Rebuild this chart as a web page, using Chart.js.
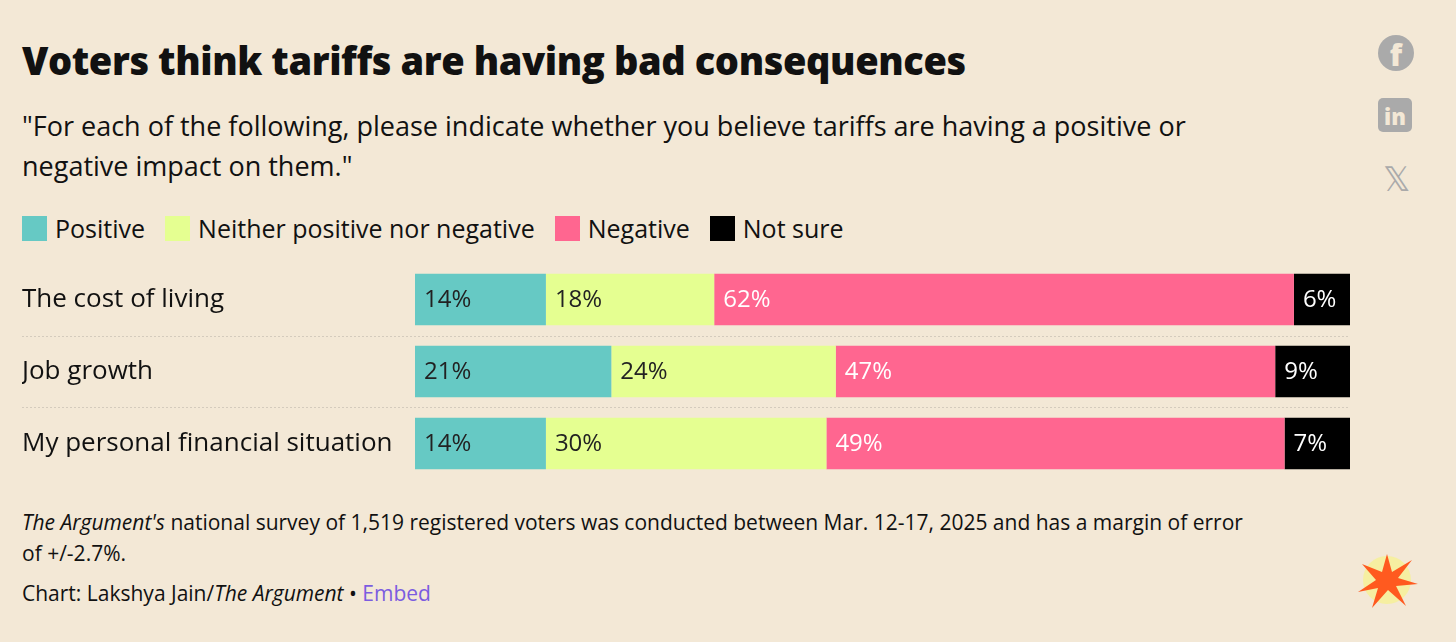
<!DOCTYPE html>
<html><head><meta charset="utf-8">
<script src="https://cdn.jsdelivr.net/npm/chart.js@4"></script>
<style>
body{margin:0;width:1456px;height:642px;background:#f3e8d6;font-family:"Open Sans","Noto Sans",sans-serif;color:#111;position:relative;overflow:hidden}
.abs{position:absolute}
h1{position:absolute;left:22px;top:34px;margin:0;font-size:38px;font-weight:800;letter-spacing:-0.4px}
.sub{left:22px;top:106px;font-size:27px;line-height:40px;width:1250px}
.leg{left:22px;top:211px;font-size:25px;display:flex}
.leg span{display:inline-flex;align-items:center;margin-right:20px}
.leg i{display:inline-block;width:25px;height:25px;margin-right:8px}
.foot{left:22px;top:507px;font-size:21px;line-height:31px;width:1225px}
.cred{left:22px;top:579px;font-size:21px}
.ic{left:1378px;width:36px;height:36px;color:#aaa;font-weight:900;text-align:center}
</style></head><body>
<h1>Voters think tariffs are having bad consequences</h1>
<div class="abs sub">"For each of the following, please indicate whether you believe tariffs are having a positive or negative impact on them."</div>
<div class="abs leg" id="leg"></div>
<canvas id="c" class="abs" style="left:0;top:248px" width="1360" height="247"></canvas>
<div class="abs foot"><i>The Argument's</i> national survey of 1,519 registered voters was conducted between Mar. 12-17, 2025 and has a margin of error of +/-2.7%.</div>
<div class="abs cred">Chart: Lakshya Jain/<i>The Argument</i> • <span style="color:#7b5ce0">Embed</span></div>
<div class="abs ic" style="top:35px;border-radius:50%;background:#aaa;color:#f3e8d6;font-size:30px;line-height:40px">f</div>
<div class="abs ic" style="top:98px;border-radius:5px;background:#aaa;color:#f3e8d6;font-size:22px;line-height:36px;width:34px;height:34px">in</div>
<div class="abs ic" style="top:158px;font-size:34px;font-weight:400;line-height:40px">𝕏</div>
<svg class="abs" style="left:1352px;top:548px" width="70" height="64" viewBox="0 0 70 64">
<circle cx="35" cy="32" r="24" fill="#f7f28a" opacity="0.7"/>
<polygon points="35,6 40,24 60,12 46,30 66,36 44,38 54,58 36,42 20,60 26,40 6,44 24,32 10,16 30,24" fill="#ff5a1f"/>
</svg>
<script>
const categories = ['The cost of living', 'Job growth', 'My personal financial situation'];
const seriesNames = ['Positive', 'Neither positive nor negative', 'Negative', 'Not sure'];
const positive = [14, 21, 14];
const neither = [18, 24, 30];
const negative = [62, 47, 49];
const notSure = [6, 9, 7];
const colors = ['#66c9c4', '#e5ff91', '#ff6690', '#000000'];
const labelColors = ['#222', '#222', '#fff', '#fff'];
const FONT = '"Open Sans", "Noto Sans", sans-serif';

const leg = document.getElementById('leg');
seriesNames.forEach((n, i) => {
    leg.innerHTML += `<span><i style="background:${colors[i]}"></i>${n}</span>`;
});

// Percent labels inside bars + dotted row separators
const barLabels = {
    id: 'barLabels',
    afterDatasetsDraw(chart) {
        const ctx = chart.ctx;
        ctx.save();
        ctx.font = '24px ' + FONT;
        ctx.textBaseline = 'middle';
        chart.data.datasets.forEach((ds, di) => {
            chart.getDatasetMeta(di).data.forEach((bar, i) => {
                ctx.fillStyle = labelColors[di];
                ctx.fillText(ds.data[i] + '%', bar.base + 9, bar.y + 1);
            });
        });
        const y = chart.scales.y;
        ctx.strokeStyle = '#d4cbbd';
        ctx.setLineDash([2, 2]);
        for (let i = 0; i < categories.length - 1; i++) {
            const yy = Math.round((y.getPixelForValue(i) + y.getPixelForValue(i + 1)) / 2) + 0.5;
            ctx.beginPath();
            ctx.moveTo(22, yy);
            ctx.lineTo(chart.chartArea.right, yy);
            ctx.stroke();
        }
        ctx.restore();
    }
};

const data = [positive, neither, negative, notSure];
new Chart(document.getElementById('c'), {
    type: 'bar',
    data: {
        labels: categories,
        datasets: seriesNames.map((n, i) => ({
            label: n,
            data: data[i],
            backgroundColor: colors[i],
            borderWidth: 0,
            barPercentage: 52 / 72.5,
            categoryPercentage: 1
        }))
    },
    options: {
        indexAxis: 'y',
        responsive: false,
        animation: false,
        devicePixelRatio: 1,
        layout: { padding: { left: 22, right: 10, top: 0, bottom: 0 } },
        plugins: { legend: { display: false }, tooltip: { enabled: false } },
        scales: {
            x: { stacked: true, min: 0, max: 100, display: false },
            y: {
                stacked: true,
                grid: { display: false },
                border: { display: false },
                afterFit: s => { s.width = 393; },
                ticks: {
                    crossAlign: 'far',
                    padding: 0,
                    color: '#111',
                    font: { size: 26, family: FONT }
                }
            }
        }
    },
    plugins: [barLabels]
});
</script>
</body></html>
